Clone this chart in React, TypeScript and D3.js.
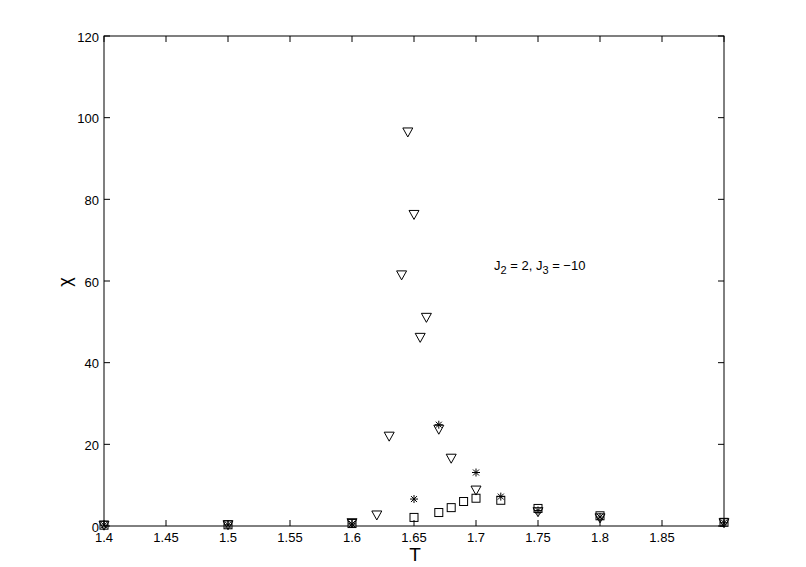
import React from "react";
import * as d3 from "d3";

// squares
const sqT = [1.4, 1.5, 1.6, 1.65, 1.67, 1.68, 1.69, 1.7, 1.72, 1.75, 1.8, 1.9];
const sqChi = [0.2, 0.3, 0.6, 2.1, 3.3, 4.5, 6.0, 6.8, 6.3, 4.3, 2.5, 0.9];
// asterisks
const stT = [1.4, 1.5, 1.6, 1.65, 1.67, 1.7, 1.72, 1.75, 1.8, 1.9];
const stChi = [0.2, 0.3, 0.5, 6.6, 24.8, 13.1, 7.2, 3.8, 2.2, 0.8];
// down triangles
const trT = [1.4, 1.5, 1.6, 1.62, 1.63, 1.64, 1.645, 1.65, 1.655, 1.66, 1.67, 1.68, 1.7, 1.75, 1.8, 1.9];
const trChi = [0.2, 0.3, 0.8, 2.7, 22.0, 61.5, 96.5, 76.3, 46.2, 51.1, 23.7, 16.6, 8.8, 3.5, 2.0, 0.8];

const xTicks = [1.4, 1.45, 1.5, 1.55, 1.6, 1.65, 1.7, 1.75, 1.8, 1.85];
const yTicks = [0, 20, 40, 60, 80, 100, 120];

const W = 806;
const H = 567;
const m = { left: 104, right: 82, top: 36, bottom: 41 };
const font = "Liberation Sans, Arial, Helvetica, sans-serif";

const App = () => {
  const x = d3.scaleLinear().domain([1.4, 1.9]).range([m.left, W - m.right]);
  const y = d3.scaleLinear().domain([0, 120]).range([H - m.bottom, m.top]);
  const x0 = x.range()[0], x1 = x.range()[1];
  const y0 = y.range()[0], y1 = y.range()[1];
  const tk = 6;

  const tri = (cx: number, cy: number) => {
    const s = 5, h = 4;
    return `M${cx - s},${cy - h}L${cx + s},${cy - h}L${cx},${cy + h + 1}Z`;
  };
  const star = (cx: number, cy: number) => {
    const r = 4, d = 3;
    return `M${cx - r},${cy}L${cx + r},${cy}M${cx},${cy - r}L${cx},${cy + r}` +
      `M${cx - d},${cy - d}L${cx + d},${cy + d}M${cx - d},${cy + d}L${cx + d},${cy - d}`;
  };

  return (
    <svg width={W} height={H} style={{ position: "absolute", left: 0, top: 0, background: "#fff" }}>
      <rect x={x0} y={y1} width={x1 - x0} height={y0 - y1} fill="none" stroke="#000" strokeWidth={1} />
      {xTicks.concat([1.9]).map((t) => (
        <g key={"x" + t}>
          <line x1={x(t)} x2={x(t)} y1={y0} y2={y0 - tk} stroke="#000" />
          <line x1={x(t)} x2={x(t)} y1={y1} y2={y1 + tk} stroke="#000" />
        </g>
      ))}
      {xTicks.map((t) => (
        <text key={"xl" + t} x={x(t)} y={y0 + 16} textAnchor="middle" fontFamily={font} fontSize={13}>
          {d3.format("")(t)}
        </text>
      ))}
      {yTicks.map((t) => (
        <g key={"y" + t}>
          <line x1={x0} x2={x0 + tk} y1={y(t)} y2={y(t)} stroke="#000" />
          <line x1={x1} x2={x1 - tk} y1={y(t)} y2={y(t)} stroke="#000" />
          <text x={x0 - 5} y={y(t) + 5.5} textAnchor="end" fontFamily={font} fontSize={13}>
            {t}
          </text>
        </g>
      ))}
      <text x={415} y={561} textAnchor="middle" fontFamily={font} fontSize={19}>T</text>
      <text transform="translate(71,282) rotate(-90)" textAnchor="middle" fontFamily={font} fontSize={18}>χ</text>
      <text x={494} y={270} fontFamily={font} fontSize={13}>
        J<tspan dy={4} fontSize={11}>2</tspan>
        <tspan dy={-4}> = 2, J</tspan>
        <tspan dy={4} fontSize={11}>3</tspan>
        <tspan dy={-4}> = −10</tspan>
      </text>
      <g fill="none" stroke="#000" strokeWidth={1}>
        {sqT.map((t, i) => (
          <rect key={"s" + i} x={x(t) - 4} y={y(sqChi[i]) - 4} width={8} height={8} />
        ))}
        {trT.map((t, i) => (
          <path key={"t" + i} d={tri(x(t), y(trChi[i]))} />
        ))}
        {stT.map((t, i) => (
          <path key={"a" + i} d={star(x(t), y(stChi[i]))} />
        ))}
      </g>
    </svg>
  );
};

export default App;
